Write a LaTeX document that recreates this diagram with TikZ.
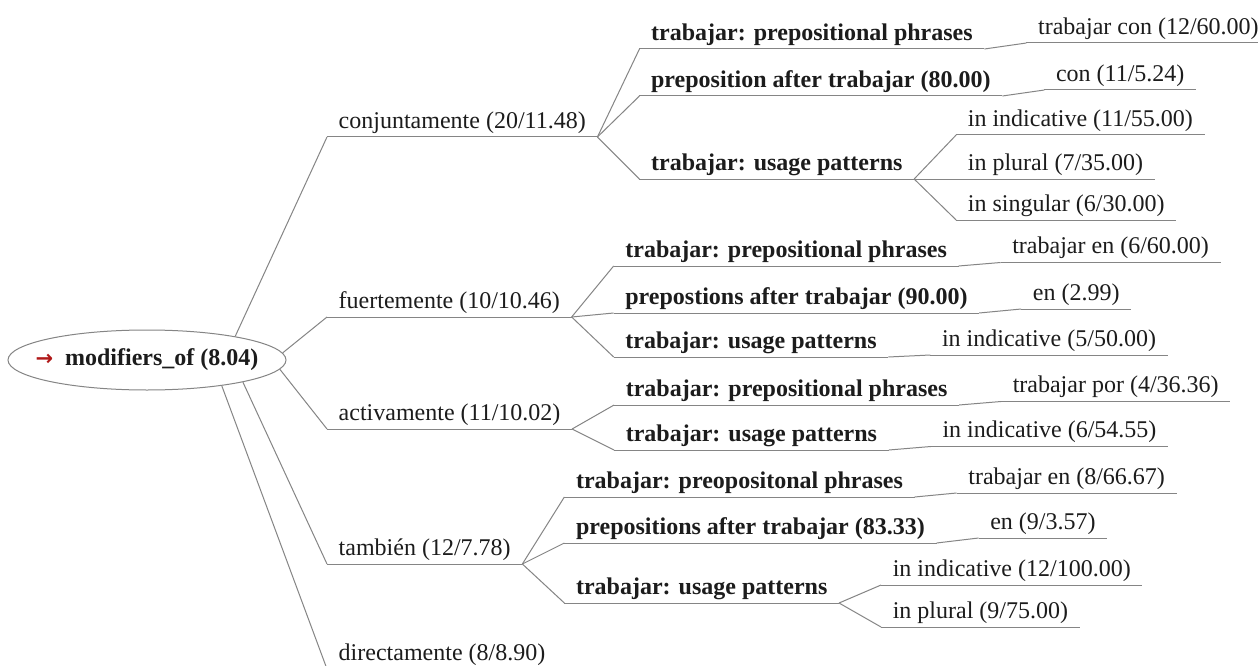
\documentclass[tikz,border=0pt]{standalone}
\usepackage{fontspec}
\setmainfont{Liberation Serif}
\newfontfamily\dvsans{DejaVu Sans}
\usetikzlibrary{shapes.geometric}
\definecolor{lncol}{HTML}{858585}
\definecolor{txcol}{HTML}{1C1C1C}
\definecolor{arrcol}{HTML}{B01818}
\begin{document}
\begin{tikzpicture}[x=1pt,y=-1pt,
  lbl/.style={anchor=south west, inner xsep=11.5pt, inner ysep=0pt,
    text height=17pt, text depth=8.4pt, font=\fontsize{24}{28}\selectfont, text=txcol},
  grp/.style={lbl, font=\fontsize{24}{28}\selectfont\bfseries},
  conn/.style={draw=lncol, line width=1pt},
  rootbox/.style={ellipse, draw=lncol, line width=1pt, minimum width=278pt,
    minimum height=60pt, inner sep=0pt},
  roottext/.style={inner sep=0pt, font=\fontsize{24}{28}\selectfont\bfseries, text=txcol}
]
\useasboundingbox (0,0) rectangle (1258,666);
\clip (0,0) rectangle (1258,666);
\fill[white] (0,0) rectangle (1258,666);

% root
\node[rootbox] (root) at (147,360) {};
\node[roottext] (rootlbl) at (root.center) {\textcolor{arrcol}{\dvsans\bfseries\fontsize{21}{24}\selectfont →}\hspace{12pt}modifiers\_of (8.04)};

% level 1
\node[lbl] (c1) at (327,137) {conjuntamente (20/11.48)};
\node[lbl] (c2) at (327,317) {fuertemente (10/10.46)};
\node[lbl] (c3) at (327,429) {activamente (11/10.02)};
\node[lbl] (c4) at (327,564) {también (12/7.78)};
\node[lbl] (c5) at (327,669) {directamente (8/8.90)};

% level 2 : conjuntamente
\node[grp, xshift=42pt] (c1a) at (c1.south east |- 0,49) {trabajar: prepositional phrases};
\node[grp, xshift=42pt] (c1b) at (c1.south east |- 0,96) {preposition after trabajar (80.00)};
\node[grp, xshift=42pt] (c1c) at (c1.south east |- 0,179) {trabajar: usage patterns};
\node[lbl, xshift=42pt] (c1a1) at (c1a.south east |- 0,43) {trabajar con (12/60.00)};
\node[lbl, xshift=42pt] (c1b1) at (c1b.south east |- 0,90) {con (11/5.24)};
\node[lbl, xshift=42pt] (c1c1) at (c1c.south east |- 0,135) {in indicative (11/55.00)};
\node[lbl, xshift=42pt] (c1c2) at (c1c.south east |- 0,179) {in plural (7/35.00)};
\node[lbl, xshift=42pt] (c1c3) at (c1c.south east |- 0,220) {in singular (6/30.00)};

% level 2 : fuertemente
\node[grp, xshift=42pt] (c2a) at (c2.south east |- 0,266) {trabajar: prepositional phrases};
\node[grp, xshift=42pt] (c2b) at (c2.south east |- 0,313) {prepostions after trabajar (90.00)};
\node[grp, xshift=42pt] (c2c) at (c2.south east |- 0,357) {trabajar: usage patterns};
\node[lbl, xshift=42pt] (c2a1) at (c2a.south east |- 0,262.5) {trabajar en (6/60.00)};
\node[lbl, xshift=42pt] (c2b1) at (c2b.south east |- 0,309) {en (2.99)};
\node[lbl, xshift=42pt] (c2c1) at (c2c.south east |- 0,355) {in indicative (5/50.00)};

% level 2 : activamente
\node[grp, xshift=42pt] (c3a) at (c3.south east |- 0,405) {trabajar: prepositional phrases};
\node[grp, xshift=42pt] (c3b) at (c3.south east |- 0,450) {trabajar: usage patterns};
\node[lbl, xshift=42pt] (c3a1) at (c3a.south east |- 0,401.5) {trabajar por (4/36.36)};
\node[lbl, xshift=42pt] (c3b1) at (c3b.south east |- 0,446.5) {in indicative (6/54.55)};

% level 2 : tambien
\node[grp, xshift=42pt] (c4a) at (c4.south east |- 0,497) {trabajar: preopositonal phrases};
\node[grp, xshift=42pt] (c4b) at (c4.south east |- 0,543) {prepositions after trabajar (83.33)};
\node[grp, xshift=42pt] (c4c) at (c4.south east |- 0,603) {trabajar: usage patterns};
\node[lbl, xshift=42pt] (c4a1) at (c4a.south east |- 0,493) {trabajar en (8/66.67)};
\node[lbl, xshift=42pt] (c4b1) at (c4b.south east |- 0,538) {en (9/3.57)};
\node[lbl, xshift=42pt] (c4c1) at (c4c.south east |- 0,585) {in indicative (12/100.00)};
\node[lbl, xshift=42pt] (c4c2) at (c4c.south east |- 0,627) {in plural (9/75.00)};

% underlines
\foreach \n in {c1,c2,c3,c4,c5,c1a,c1b,c1c,c1a1,c1b1,c1c1,c1c2,c1c3,
  c2a,c2b,c2c,c2a1,c2b1,c2c1,c3a,c3b,c3a1,c3b1,c4a,c4b,c4c,c4a1,c4b1,c4c1,c4c2}
  \draw[conn] (\n.south west) -- (\n.south east);

% connectors from root
\draw[conn] (root.15) -- (c1.south west);
\draw[conn] (root.3.5) -- (c2.south west);
\draw[conn] (root.-4.4) -- (c3.south west);
\draw[conn] (root.-13) -- (c4.south west);
\draw[conn] (root.-19) -- (c5.south west);

% connectors to children
\foreach \p/\c in {c1/c1a,c1/c1b,c1/c1c,c2/c2a,c2/c2b,c2/c2c,c3/c3a,c3/c3b,c4/c4a,c4/c4b,c4/c4c,
  c1a/c1a1,c1b/c1b1,c1c/c1c1,c1c/c1c2,c1c/c1c3,c2a/c2a1,c2b/c2b1,c2c/c2c1,
  c3a/c3a1,c3b/c3b1,c4a/c4a1,c4b/c4b1,c4c/c4c1,c4c/c4c2}
  \draw[conn] (\p.south east) -- (\c.south west);
\end{tikzpicture}
\end{document}
